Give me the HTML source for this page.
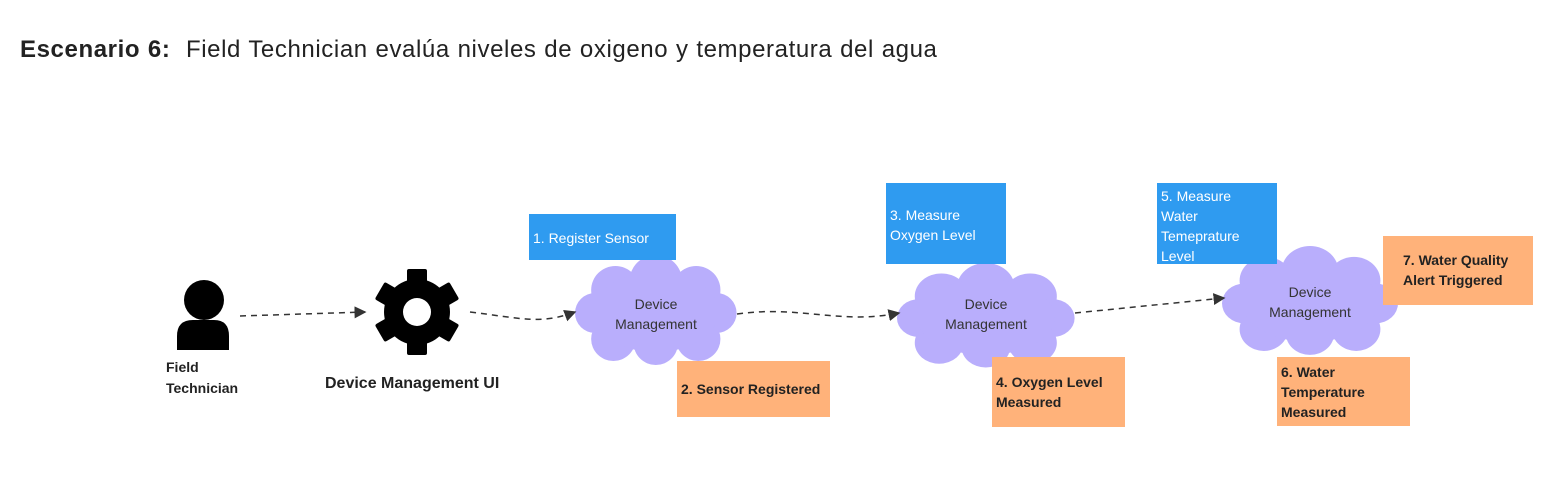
<!DOCTYPE html>
<html><head><meta charset="utf-8"><style>
body{margin:0;background:#fff;width:1556px;height:491px;overflow:hidden;font-family:"Liberation Sans","DejaVu Sans",sans-serif}
.t{position:absolute;left:20px;top:36px;font-size:24px;color:#222;letter-spacing:0.6px;word-spacing:0.5px}
.b{position:absolute;box-sizing:border-box;padding:4px 4px;font-size:14px;line-height:20px}
.bl{background:#2f9bf0;color:#fff}
.or{background:#ffb27a;color:#222;font-weight:bold}
.lb{position:absolute;font-size:14px;color:#222;font-weight:bold}
.cl{position:absolute;text-align:center;font-size:14px;color:#333;line-height:20px}
</style></head><body>
<div class="t"><b>Escenario 6:</b>&nbsp; Field Technician evalúa niveles de oxigeno y temperatura del agua</div>
<svg width="1556" height="491" style="position:absolute;left:0;top:0">
<defs>
<g id="cloud" fill="#b9aefc">
<circle cx="40" cy="35" r="24"/><circle cx="80" cy="26" r="26"/><circle cx="120" cy="35" r="24"/>
<circle cx="140" cy="58" r="20"/><circle cx="122" cy="84" r="22"/><circle cx="80" cy="88" r="22"/>
<circle cx="38" cy="84" r="22"/><circle cx="20" cy="58" r="20"/><ellipse cx="80" cy="57" rx="62" ry="40"/>
</g>
<marker id="ar" markerWidth="8" markerHeight="8" refX="7" refY="4" orient="auto"><path d="M0,0 L8,4 L0,8 Z" fill="#333"/></marker>
</defs>
<use href="#cloud" transform="translate(575,255) scale(1.01,1)"/>
<use href="#cloud" transform="translate(897,263) scale(1.11,0.95)"/>
<use href="#cloud" transform="translate(1222,246) scale(1.1,0.99)"/>
<g stroke="#333" stroke-width="1.5" stroke-dasharray="6,5" fill="none" marker-end="url(#ar)">
<path d="M240,316 L365,312"/>
<path d="M470,312 C520,318 540,325 575,312"/>
<path d="M737,314 C800,305 840,325 899,313"/>
<path d="M1075,313 L1224,298"/>
</g>
<circle cx="204" cy="300" r="20" fill="#000"/>
<path d="M177,350 L177,336 Q177,320 193,320 L214,320 Q229,320 229,336 L229,350 Z" fill="#000"/>
<g transform="translate(417,312)" fill="#000">
<circle r="33"/>
<g id="tooth"><rect x="-10" y="-43" width="20" height="16" rx="2"/></g>
<use href="#tooth" transform="rotate(60)"/><use href="#tooth" transform="rotate(120)"/>
<use href="#tooth" transform="rotate(180)"/><use href="#tooth" transform="rotate(240)"/><use href="#tooth" transform="rotate(300)"/>
<circle r="14" fill="#fff"/>
</g>
</svg>
<div class="lb" style="left:166px;top:357px;line-height:21px">Field<br>Technician</div>
<div class="lb" style="left:325px;top:375px;font-size:16px">Device Management UI</div>
<div class="cl" style="left:575px;top:294px;width:162px">Device<br>Management</div>
<div class="cl" style="left:897px;top:294px;width:178px">Device<br>Management</div>
<div class="cl" style="left:1222px;top:282px;width:176px">Device<br>Management</div>
<div class="b bl" style="left:529px;top:214px;width:147px;height:46px;padding-top:14px">1. Register Sensor</div>
<div class="b or" style="left:677px;top:361px;width:153px;height:56px;padding-top:18px">2. Sensor Registered</div>
<div class="b bl" style="left:886px;top:183px;width:120px;height:81px;padding-top:22px">3. Measure<br>Oxygen Level</div>
<div class="b or" style="left:992px;top:357px;width:133px;height:70px;padding-top:15px">4. Oxygen Level<br>Measured</div>
<div class="b bl" style="left:1157px;top:183px;width:120px;height:81px;padding-top:3px">5. Measure<br>Water<br>Temeprature<br>Level</div>
<div class="b or" style="left:1277px;top:357px;width:133px;height:69px;padding-top:5px">6. Water<br>Temperature<br>Measured</div>
<div class="b or" style="left:1383px;top:236px;width:150px;height:69px;padding-top:14px;padding-left:20px">7. Water Quality<br>Alert Triggered</div>
</body></html>
